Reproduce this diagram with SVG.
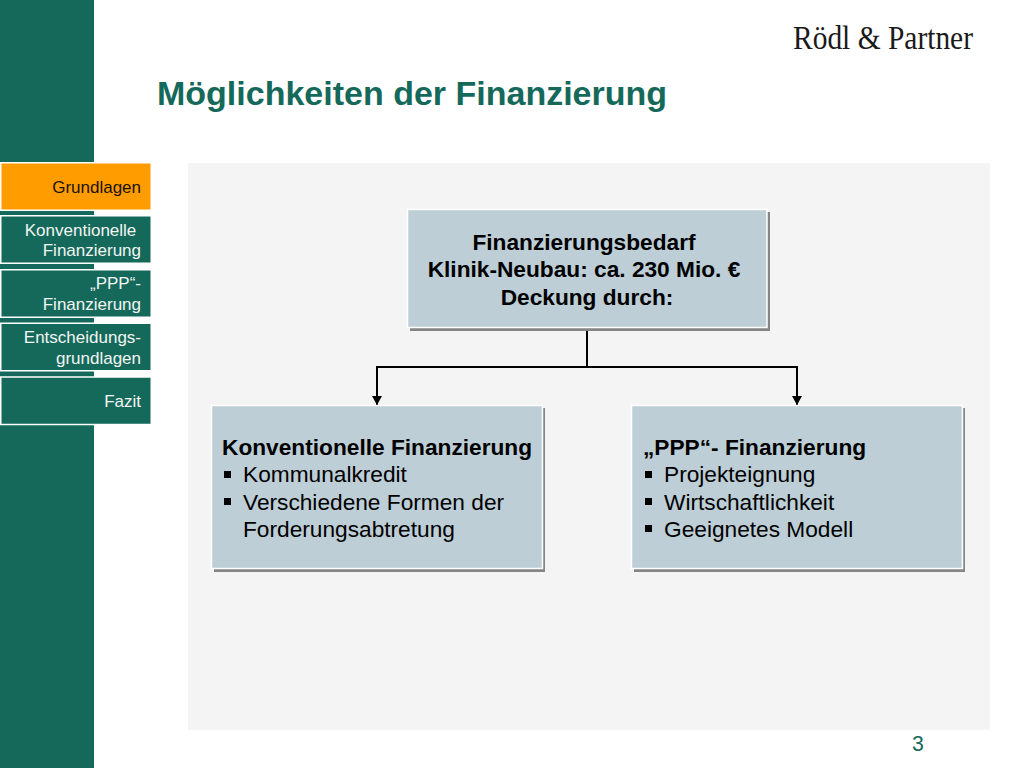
<svg xmlns="http://www.w3.org/2000/svg" width="1024" height="768" viewBox="0 0 1024 768">
<defs>
<marker id="arrow" markerUnits="userSpaceOnUse" markerWidth="9" markerHeight="10" refX="9" refY="5" orient="auto" viewBox="0 0 9 10"><path d="M0 0L9 5L0 10Z" fill="#000"/></marker>
</defs>
<style>
text{font-family:"Liberation Sans",Arial,sans-serif}
.tab{fill:#15695a;stroke:#fff;stroke-width:1.5}
.tabt{font-size:17px;fill:#f2f5f3;text-anchor:end}
.shadow{fill:#858585}
.box{fill:#bdced6;stroke:#fff;stroke-width:1.5}
.t{font-size:22.7px;fill:#000}
.b{font-weight:bold}
.m{text-anchor:middle}
.bullet{fill:#000}
.conn{fill:none;stroke:#000;stroke-width:2}
</style>
<rect width="1024" height="768" fill="#fff"/>
<rect id="sidebar" x="0" y="0" width="94" height="768" fill="#15695a"/>
<rect id="panel" x="188" y="163" width="802" height="567" fill="#f4f4f4"/>
<text id="logo" x="793" y="49" font-size="33" style="font-family:'Liberation Serif',serif" textLength="180" lengthAdjust="spacingAndGlyphs" fill="#1a1a1a">Rödl &amp; Partner</text>
<text id="title" x="157" y="105" font-size="34" font-weight="bold" fill="#15695a">Möglichkeiten der Finanzierung</text>
<g id="nav-grundlagen"><rect x="0.75" y="162.75" width="150.5" height="47.5" fill="#ff9c00" stroke="#fff" stroke-width="1.5"/><text class="tabt" x="141" y="193" style="fill:#1a1208">Grundlagen</text></g>
<g id="nav-konventionell"><rect class="tab" x="0.75" y="215.75" width="150.5" height="47.5"/><text class="tabt" x="141" y="236" xml:space="preserve" dx="-4.7">Konventionelle</text><text class="tabt" x="141" y="256">Finanzierung</text></g>
<g id="nav-ppp"><rect class="tab" x="0.75" y="269.75" width="150.5" height="47.5"/><text class="tabt" x="141" y="289">„PPP“-</text><text class="tabt" x="141" y="310">Finanzierung</text></g>
<g id="nav-entscheidung"><rect class="tab" x="0.75" y="323.25" width="150.5" height="47.5"/><text class="tabt" x="141" y="343">Entscheidungs-</text><text class="tabt" x="141" y="364">grundlagen</text></g>
<g id="nav-fazit"><rect class="tab" x="0.75" y="377" width="150.5" height="47.5"/><text class="tabt" x="141" y="407">Fazit</text></g>
<g id="connectors">
<path class="conn" d="M587 328V367"/>
<path class="conn" d="M587 367H377V405" marker-end="url(#arrow)"/>
<path class="conn" d="M587 367H797V405" marker-end="url(#arrow)"/>
</g>
<g id="node-bedarf">
<rect class="shadow" x="410" y="212" width="360" height="119"/>
<rect class="box" x="407.5" y="209.5" width="359.5" height="118"/>
<text class="t b m" x="584" y="250">Finanzierungsbedarf</text>
<text class="t b m" x="584" y="277">Klinik-Neubau: ca. 230 Mio. €</text>
<text class="t b m" x="587" y="305">Deckung durch:</text>
</g>
<g id="node-konventionell">
<rect class="shadow" x="214" y="408" width="331" height="164"/>
<rect class="box" x="211.5" y="405.5" width="331" height="163"/>
<text class="t b" x="222" y="455">Konventionelle Finanzierung</text>
<rect class="bullet" x="224" y="471" width="7" height="7"/>
<text class="t" x="243" y="482">Kommunalkredit</text>
<rect class="bullet" x="224" y="498" width="7" height="7"/>
<text class="t" x="243" y="510">Verschiedene Formen der</text>
<text class="t" x="243" y="537">Forderungsabtretung</text>
</g>
<g id="node-ppp">
<rect class="shadow" x="634" y="408" width="331" height="164"/>
<rect class="box" x="631.5" y="405.5" width="331" height="163"/>
<text class="t b" x="643" y="455">„PPP“- Finanzierung</text>
<rect class="bullet" x="645" y="471" width="7" height="7"/>
<text class="t" x="664" y="482">Projekteignung</text>
<rect class="bullet" x="645" y="498" width="7" height="7"/>
<text class="t" x="664" y="510">Wirtschaftlichkeit</text>
<rect class="bullet" x="645" y="525" width="7" height="7"/>
<text class="t" x="664" y="537">Geeignetes Modell</text>
</g>
<text id="page" x="918" y="751" font-size="21.3" fill="#15695a" text-anchor="middle">3</text>
</svg>
